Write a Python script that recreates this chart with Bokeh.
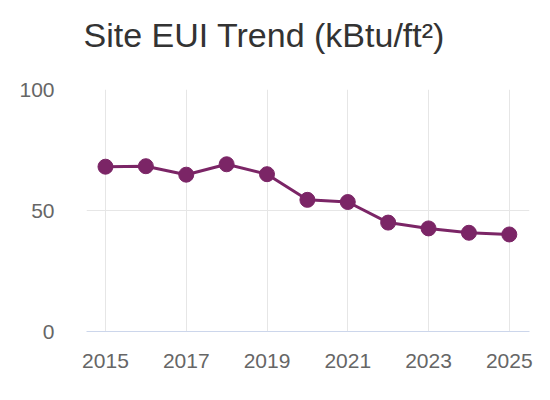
from bokeh.plotting import figure
from bokeh.models import Range1d, FixedTicker, Title
from bokeh.embed import file_html
from bokeh.resources import INLINE

# Site EUI per year (kBtu/ft²)
years = [2015, 2016, 2017, 2018, 2019, 2020, 2021, 2022, 2023, 2024, 2025]
eui = [68.1, 68.3, 64.8, 69.1, 65.0, 54.4, 53.5, 45.0, 42.6, 40.8, 40.1]

x_ticks = [2015, 2017, 2019, 2021, 2023, 2025]
y_ticks = [0, 50, 100]

title_text = "Site EUI Trend (kBtu/ft²)"
line_color = "#7b2566"
font = "Liberation Sans"

p = figure(
    width=550, height=400,
    output_backend="svg", toolbar_location=None,
    x_range=Range1d(2014.53, 2025.5), y_range=Range1d(0, 100),
    min_border_left=86, min_border_right=21,
    min_border_top=89, min_border_bottom=69,
)
p.outline_line_color = None
p.background_fill_color = "white"
p.border_fill_color = "white"

# blank band between the frame and the title
p.add_layout(Title(text=" ", text_font_size="1px", standoff=22), "above")

p.title.text = title_text
p.title.text_font = font
p.title.text_font_size = "34px"
p.title.text_font_style = "normal"
p.title.text_color = "#333333"
p.title.offset = -3
p.title.standoff = 22

# axes
p.xaxis.ticker = FixedTicker(ticks=x_ticks)
p.yaxis.ticker = FixedTicker(ticks=y_ticks)
for ax in (p.xaxis[0], p.yaxis[0]):
    ax.major_tick_line_color = None
    ax.minor_tick_line_color = None
    ax.major_label_text_font = font
    ax.major_label_text_font_size = "21px"
    ax.major_label_text_color = "#666666"
p.xaxis.axis_line_color = "#ccd6eb"
p.xaxis.axis_line_width = 1
p.xaxis.major_label_standoff = 16
p.yaxis.axis_line_color = None
p.yaxis.major_label_standoff = 26

# grid
p.xgrid.ticker = FixedTicker(ticks=x_ticks)
p.ygrid.ticker = FixedTicker(ticks=y_ticks)
p.xgrid.grid_line_color = "#e6e6e6"
p.ygrid.grid_line_color = "#e6e6e6"
p.xgrid.grid_line_width = 1
p.ygrid.grid_line_width = 1

p.line(years, eui, line_color=line_color, line_width=3)
p.scatter(years, eui, size=15, fill_color=line_color, line_color=line_color)

open("out.html", "w").write(file_html(p, INLINE))
